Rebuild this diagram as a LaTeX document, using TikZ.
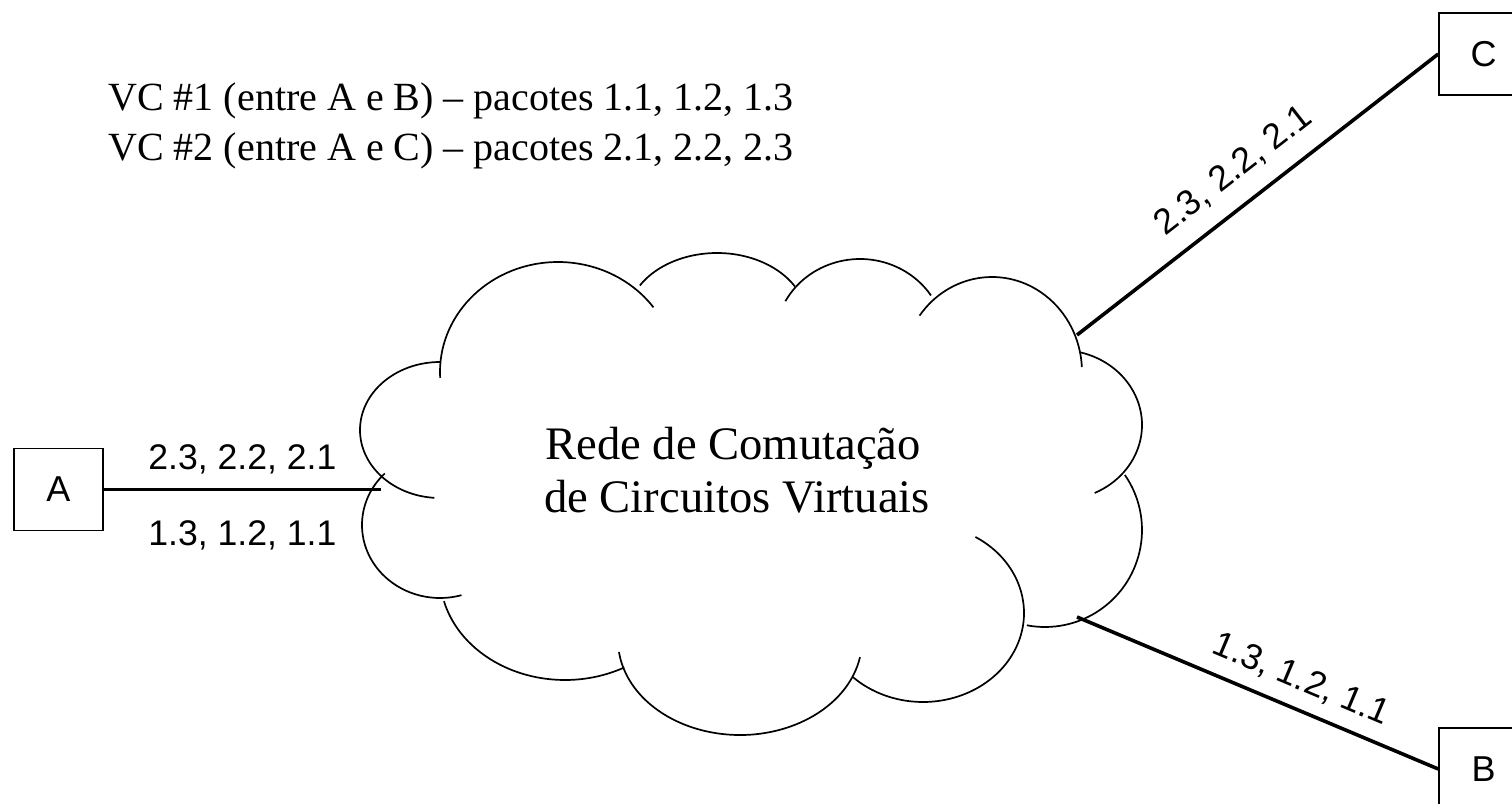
\documentclass[tikz,border=0pt]{standalone}
\usepackage{fontspec}
\setmainfont{Liberation Serif}
\newfontfamily\labelfont{Liberation Sans}
\begin{document}
\begin{tikzpicture}[x=0.5pt,y=-0.5pt,
  box/.style={draw, line width=0.75pt, minimum width=44.5pt, minimum height=41pt,
    inner sep=0pt, font=\labelfont\fontsize{18}{20}\selectfont},
  link/.style={line width=1.8pt},
  lobe/.style={line width=0.85pt},
  pkt/.style={font=\labelfont\fontsize{17.8}{20}\selectfont, inner sep=0pt, anchor=base},
  heading/.style={font=\fontsize{20}{24}\selectfont, inner sep=0pt, anchor=base west},
  netlabel/.style={font=\fontsize{23.3}{27}\selectfont, inner sep=0pt, anchor=base}]

\useasboundingbox (0,0) rectangle (1512,804);
\clip (0,0) rectangle (1512,804);

% title lines
\node[heading] (vc1) at (108,110) {VC \#1 (entre A e B) – pacotes 1.1, 1.2, 1.3};
\node[heading] (vc2) at (108,160) {VC \#2 (entre A e C) – pacotes 2.1, 2.2, 2.3};

% end stations
\node[box] (A) at (58.5,489.5) {A};
\node[box] (C) at (1483.5,54) {C};
\node[box] (B) at (1483.5,769) {B};

% cloud outline: one elliptical arc per lobe
% centre x, centre y, x radius, y radius, start angle, end angle
\foreach \cx/\cy/\rx/\ry/\sa/\ea in {
    440/430/80/68/270/94,
    558/372/118/110/177/324,
    717/320/90/67/211/330,
    860/340/85/81/208.6/326.6,
    992/372/90/95/216.4/357,
    1060/425/82/75/284.3/425,
    1045/530/97/97/-34.6/100.8,
    923/613/101/89/-58.7/133.8,
    740/640/122/95/10.4/172.8,
    565/575/125/105/61.7/165.6,
    440/525/78/73/225/74}
  \draw[lobe] ({\cx+\rx*cos(\sa)},{\cy+\ry*sin(\sa)})
    arc[start angle=\sa, end angle=\ea, x radius=\rx, y radius=\ry];

\node[netlabel] (net1) at (733,459) {Rede de Comutação};
\node[netlabel] (net2) at (737,512) {de Circuitos Virtuais};

% points where the links touch the cloud
\coordinate (cA) at (381,489.5);
\coordinate (cC) at (1077,335);
\coordinate (cB) at (1077,617);

% links with their packet sequences
\draw[link] (A.east) -- (cA)
  node[pkt, pos=0.5, yshift=10.25pt] (qA2) {2.3, 2.2, 2.1}
  node[pkt, pos=0.5, yshift=-27.75pt] (qA1) {1.3, 1.2, 1.1};
\draw[link] (cC) -- (C.west)
  node[pkt, pos=0.49, sloped, yshift=11.75pt] (qC) {2.3, 2.2, 2.1};
\draw[link] (cB) -- (B.west)
  node[pkt, pos=0.59, sloped, yshift=9.5pt] (qB) {1.3, 1.2, 1.1};
\end{tikzpicture}
\end{document}
